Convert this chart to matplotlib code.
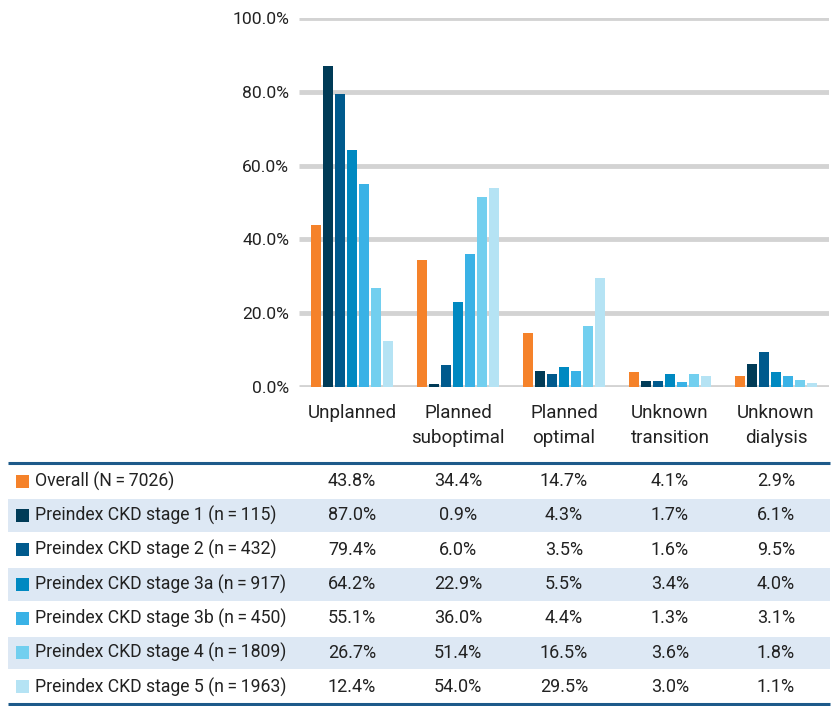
import matplotlib
matplotlib.use("Agg")
import matplotlib.pyplot as plt
from matplotlib.transforms import blended_transform_factory
from matplotlib.patches import Rectangle
import numpy as np

plt.rcParams['font.family'] = ['Roboto', 'DejaVu Sans']

categories = ["Unplanned", "Planned\nsuboptimal", "Planned\noptimal", "Unknown\ntransition", "Unknown\ndialysis"]
series_names = [
    "Overall (N\u2009=\u20097026)",
    "Preindex CKD stage 1 (n\u2009=\u2009115)",
    "Preindex CKD stage 2 (n\u2009=\u2009432)",
    "Preindex CKD stage 3a (n\u2009=\u2009917)",
    "Preindex CKD stage 3b (n\u2009=\u2009450)",
    "Preindex CKD stage 4 (n\u2009=\u20091809)",
    "Preindex CKD stage 5 (n\u2009=\u20091963)",
]
overall = [43.8, 34.4, 14.7, 4.1, 2.9]
stage1 = [87.0, 0.9, 4.3, 1.7, 6.1]
stage2 = [79.4, 6.0, 3.5, 1.6, 9.5]
stage3a = [64.2, 22.9, 5.5, 3.4, 4.0]
stage3b = [55.1, 36.0, 4.4, 1.3, 3.1]
stage4 = [26.7, 51.4, 16.5, 3.6, 1.8]
stage5 = [12.4, 54.0, 29.5, 3.0, 1.1]
series = [overall, stage1, stage2, stage3a, stage3b, stage4, stage5]
colors = ["#f5822a", "#003b57", "#005a8d", "#0089c1", "#3ab2e6", "#72cfef", "#b5e3f4"]
y_ticks = [0, 20, 40, 60, 80, 100]

W, H = 834, 706
fig = plt.figure(figsize=(W / 100, H / 100), dpi=100)

# Table axes in pixel coordinates
tax = fig.add_axes([0, 0, 1, 1])
tax.set_xlim(0, W)
tax.set_ylim(H, 0)
tax.axis('off')

ax = fig.add_axes([299 / W, 1 - 387 / H, 530 / W, (387 - 18) / H])
ax.set_xlim(-0.5, len(categories) - 0.5)
ax.set_ylim(0, 100)
for s in ax.spines.values():
    s.set_visible(False)
for t in y_ticks:
    ax.axhline(t, color="#d3d3d3", lw=3.5, zorder=0, solid_capstyle='butt')
ax.set_yticks(y_ticks)
ax.set_yticklabels([f"{t:.1f}%" for t in y_ticks], fontsize=12.6, color="#222222")
ax.tick_params(axis='y', length=0, pad=7)
ax.tick_params(axis='x', length=0, pad=12)
x = np.arange(len(categories))
ax.set_xticks(x)
ax.set_xticklabels(categories, fontsize=13.5, color="#222222", linespacing=1.55)

step = 0.113
bw = 0.092
n = len(series)
for i, (vals, c) in enumerate(zip(series, colors)):
    ax.bar(x + (i - (n - 1) / 2) * step, vals, width=bw, color=c, zorder=2)

# Table
trans = blended_transform_factory(ax.transData, tax.transData)
top = 464
row_h = 34.3
left, right = 8, 830
for r in range(n):
    y0 = top + r * row_h
    if r % 2 == 1:
        tax.add_patch(Rectangle((left, y0 + 1), right - left, row_h - 1.5,
                                facecolor="#dde8f4", edgecolor='none', zorder=1))
    yc = y0 + row_h / 2
    tax.add_patch(Rectangle((16, yc - 6.5), 13, 13, facecolor=colors[r], edgecolor='none', zorder=2))
    tax.text(35, yc, series_names[r], fontsize=12.7, va='center', ha='left', color="#222222", zorder=3)
    for j, v in enumerate(series[r]):
        tax.text(j, yc, f"{v:.1f}%", transform=trans, fontsize=13, va='center', ha='center',
                 color="#222222", zorder=3)
tax.plot([left, right], [top - 1, top - 1], color="#1d5a8a", lw=2.2, solid_capstyle='butt', zorder=4)
tax.plot([left, right], [top + n * row_h, top + n * row_h], color="#1d5a8a", lw=2.2,
         solid_capstyle='butt', zorder=4)

fig.savefig("out.png", dpi=100)
